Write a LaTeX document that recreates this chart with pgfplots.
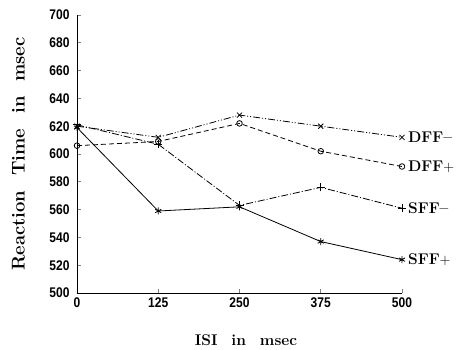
\documentclass[border=0pt]{standalone}
\usepackage{fontspec}
\usepackage{pgfplots}
\pgfplotsset{compat=1.18}
\newfontfamily\tickfont[FakeStretch=0.86]{Liberation Sans Bold}
\begin{document}
\begin{tikzpicture}
\useasboundingbox (-77pt,-57pt) rectangle (394pt,293pt);
\begin{axis}[
  scale only axis, width=325pt, height=278pt,
  xmin=0, xmax=500, ymin=500, ymax=700,
  axis lines=left, axis line style={-, line width=0.9pt},
  xtick={0,125,250,375,500}, ytick={500,520,...,700},
  tick align=inside, major tick length=4pt,
  tick style={line width=0.8pt},
  tick label style={font=\tickfont\fontsize{14}{14}\selectfont},
  yticklabel style={xshift=-4pt},
  xticklabel style={yshift=-1pt},
  /pgf/number format/assume math mode=true,
  xlabel={\bfseries ISI\hspace{0.9em}in\hspace{0.9em}msec},
  ylabel={\bfseries Reaction\hspace{0.8em}Time\hspace{0.8em}in\hspace{0.8em}msec},
  xlabel style={font=\fontsize{15.5}{15.5}\selectfont, at={(axis description cs:0.52,0)}, anchor=center, yshift=-47pt},
  ylabel style={font=\fontsize{18.5}{18.5}\selectfont, at={(axis description cs:-0.18,0.5)}, anchor=center},
  clip=false,
  every axis plot/.append style={black, line width=0.8pt},
  mark options={solid, line width=0.8pt},
]
\addplot[dash pattern=on 7pt off 2pt on 1pt off 2pt on 1pt off 2pt, mark=x, mark size=3.5pt] coordinates {(0,620) (125,612) (250,628) (375,620) (500,612)};
\addplot[dash pattern=on 5pt off 3pt, mark=o, mark size=2.8pt] coordinates {(0,606) (125,609) (250,622) (375,602) (500,591)};
\addplot[dash pattern=on 7pt off 2pt on 1pt off 2pt, mark=+, mark size=4pt] coordinates {(0,621) (125,607) (250,563) (375,576) (500,561)};
\addplot[solid, mark=asterisk, mark size=3.5pt] coordinates {(0,619) (125,559) (250,562) (375,537) (500,524)};
\node[anchor=west, font=\bfseries\fontsize{15.5}{15.5}\selectfont] at (axis cs:500,612) {\,DFF--};
\node[anchor=west, font=\bfseries\fontsize{15.5}{15.5}\selectfont] at (axis cs:500,591) {\,DFF$+$};
\node[anchor=west, font=\bfseries\fontsize{15.5}{15.5}\selectfont] at (axis cs:500,561) {\,SFF--};
\node[anchor=west, font=\bfseries\fontsize{15.5}{15.5}\selectfont] at (axis cs:500,524) {\,SFF$+$};
\end{axis}
\end{tikzpicture}
\end{document}
